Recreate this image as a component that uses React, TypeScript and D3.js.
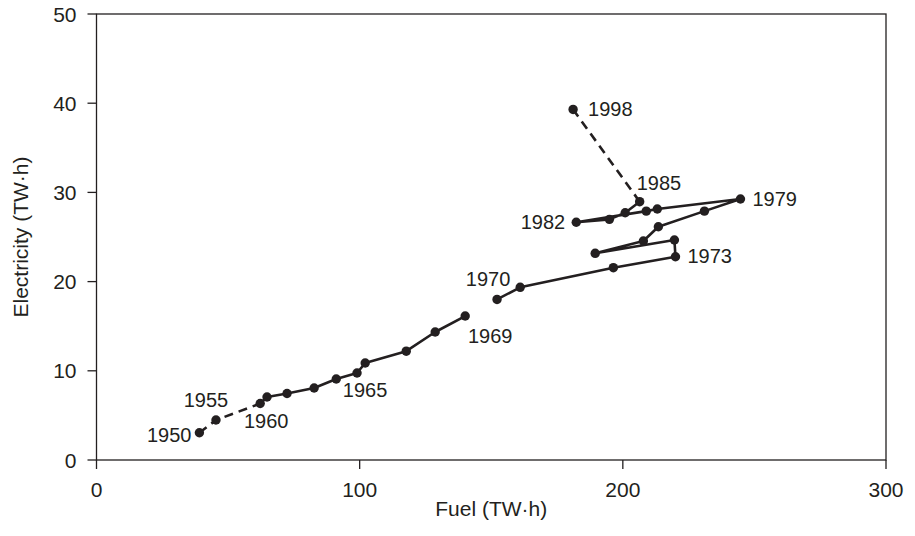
import React from "react";
import * as d3 from "d3";

// Data: fuel use vs electricity output, by year
const years = [1950, 1955, 1960, 1961, 1962, 1963, 1964, 1965, 1966, 1967, 1968, 1969,
  1970, 1971, 1972, 1973, 1974, 1975, 1976, 1977, 1978, 1979,
  1980, 1981, 1982, 1983, 1984, 1985, 1998];
const fuel = [39.1, 45.4, 62.2, 64.8, 72.4, 82.7, 91.1, 99.0, 102.1, 117.7, 128.7, 140.1,
  152.2, 161.0, 196.4, 220.0, 219.6, 189.5, 207.8, 213.5, 231.0, 244.7,
  213.1, 208.9, 182.3, 194.9, 200.9, 206.4, 181.1];
const electricity = [3.06, 4.48, 6.33, 7.06, 7.46, 8.07, 9.08, 9.75, 10.87, 12.2, 14.35, 16.14,
  18.0, 19.36, 21.56, 22.79, 24.66, 23.17, 24.55, 26.15, 27.9, 29.26,
  28.14, 27.9, 26.65, 26.98, 27.72, 28.96, 39.3];

// Line segments (by year ranges) and their style
const segments: { from: number; to: number; dashed: boolean }[] = [
  { from: 1950, to: 1960, dashed: true },
  { from: 1960, to: 1969, dashed: false },
  { from: 1970, to: 1985, dashed: false },
  { from: 1985, to: 1998, dashed: true },
];

const xTicks = [0, 100, 200, 300];
const yTicks = [0, 10, 20, 30, 40, 50];
const labelledYears = [1950, 1955, 1960, 1965, 1969, 1970, 1973, 1979, 1982, 1985, 1998];

// label placement relative to the point (pixels)
const labelPlacement: Record<number, { dx: number; dy: number; anchor: string }> = {
  1950: { dx: -8, dy: 9, anchor: "end" },
  1955: { dx: -10, dy: -13, anchor: "middle" },
  1960: { dx: 6, dy: 24, anchor: "middle" },
  1965: { dx: 8, dy: 24, anchor: "middle" },
  1969: { dx: 25, dy: 27, anchor: "middle" },
  1970: { dx: -9, dy: -13, anchor: "middle" },
  1973: { dx: 12, dy: 6, anchor: "start" },
  1979: { dx: 12, dy: 7, anchor: "start" },
  1982: { dx: -11, dy: 7, anchor: "end" },
  1985: { dx: -3, dy: -12, anchor: "start" },
  1998: { dx: 15, dy: 7, anchor: "start" },
};

const W = 915;
const H = 536;
const left = 96.5, right = 886, top = 14, bottom = 460;
const INK = "#231f20";
const FONT = "'Liberation Sans', Arial, Helvetica, sans-serif";
const FS = 20;
const FS_AXIS = 21;

export default function App() {
  const x = d3.scaleLinear().domain([0, 300]).range([left, right]);
  const y = d3.scaleLinear().domain([0, 50]).range([bottom, top]);
  const pts = years.map((yr, i) => ({ yr, fx: fuel[i], ey: electricity[i] }));
  const line = d3.line<{ fx: number; ey: number }>().x((d) => x(d.fx)).y((d) => y(d.ey));

  return (
    <div style={{ position: "absolute", left: 0, top: 0 }}>
      <svg width={W} height={H} style={{ display: "block", background: "#fff" }}>
        {/* frame */}
        <rect x={left} y={top} width={right - left} height={bottom - top} fill="none" stroke={INK} strokeWidth={1.3} />
        {/* x ticks */}
        {xTicks.map((t) => (
          <g key={"x" + t}>
            <line x1={x(t)} x2={x(t)} y1={bottom} y2={bottom + 9} stroke={INK} strokeWidth={1.3} />
            <text x={x(t)} y={bottom + 37} textAnchor="middle" fontFamily={FONT} fontSize={FS_AXIS} fill={INK}>{t}</text>
          </g>
        ))}
        {/* y ticks */}
        {yTicks.map((t) => (
          <g key={"y" + t}>
            <line x1={left - 9} x2={left} y1={y(t)} y2={y(t)} stroke={INK} strokeWidth={1.3} />
            <text x={left - 20} y={y(t) + 7.5} textAnchor="end" fontFamily={FONT} fontSize={FS_AXIS} fill={INK}>{t}</text>
          </g>
        ))}
        {/* axis titles */}
        <text x={(left + right) / 2} y={516} textAnchor="middle" fontFamily={FONT} fontSize={FS_AXIS} fill={INK}>Fuel (TW·h)</text>
        <text transform={`translate(28,${(top + bottom) / 2}) rotate(-90)`} textAnchor="middle" fontFamily={FONT} fontSize={FS_AXIS} fill={INK}>Electricity (TW·h)</text>
        {/* lines */}
        {segments.map((s, i) => {
          const seg = pts.filter((p) => p.yr >= s.from && p.yr <= s.to);
          const pathPts = s.from === 1985 ? [pts.find((p) => p.yr === 1985)!, pts.find((p) => p.yr === 1998)!] : seg;
          return (
            <path key={i} d={line(pathPts) || ""} fill="none" stroke={INK} strokeWidth={2.6}
              strokeDasharray={s.dashed ? "9,6" : undefined} strokeLinejoin="round" />
          );
        })}
        {/* points */}
        {pts.map((p) => (
          <circle key={p.yr} cx={x(p.fx)} cy={y(p.ey)} r={4.7} fill={INK} />
        ))}
        {/* labels */}
        {labelledYears.map((yr) => {
          const p = pts.find((q) => q.yr === yr)!;
          const lp = labelPlacement[yr];
          return (
            <text key={"l" + yr} x={x(p.fx) + lp.dx} y={y(p.ey) + lp.dy} textAnchor={lp.anchor}
              fontFamily={FONT} fontSize={FS} fill={INK}>{yr}</text>
          );
        })}
      </svg>
    </div>
  );
}
